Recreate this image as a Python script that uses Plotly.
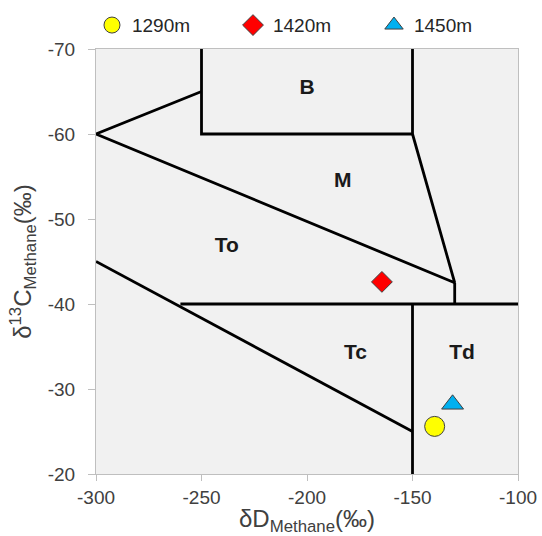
import plotly.graph_objects as go

# Sample measurements (dD, d13C of methane) by depth
depths = ["1290m", "1420m", "1450m"]
dD_values = [-139.5, -164.5, -131.0]
d13C_values = [-25.6, -42.6, -28.2]
marker_symbols = ["circle", "diamond", "triangle-up"]
marker_sizes = [20, 16, 19]
marker_colors = ["#FFFF00", "#FF0000", "#00B0F0"]

# Genetic classification zone boundaries (dD, d13C polylines)
boundaries = [
    ([-250, -250, -150, -150], [-70, -60, -60, -70]),
    ([-250, -300, -130, -150], [-65, -60, -42.5, -60]),
    ([-130, -130], [-42.5, -40]),
    ([-260, -100], [-40, -40]),
    ([-300, -150], [-45, -25]),
    ([-150, -150], [-40, -20]),
]

# Zone labels
zone_names = ["B", "M", "To", "Tc", "Td"]
zone_x = [-200, -183, -238, -177, -126.5]
zone_y = [-65.3, -54.4, -46.7, -34.1, -34.1]

# Axis ticks
x_ticks = [-300, -250, -200, -150, -100]
y_ticks = [-70, -60, -50, -40, -30, -20]

FONT = "Liberation Sans, Arial, sans-serif"

fig = go.Figure()

for bx, by in boundaries:
    fig.add_trace(go.Scatter(
        x=bx, y=by, mode="lines",
        line=dict(color="black", width=2.8),
        showlegend=False, hoverinfo="skip",
    ))

fig.add_trace(go.Scatter(
    x=zone_x, y=zone_y, mode="text", text=zone_names,
    texttemplate="<b>%{text}</b>",
    textfont=dict(family=FONT, size=21, color="#1a1a1a"),
    showlegend=False, hoverinfo="skip",
))

for name, xv, yv, sym, sz, col in zip(depths, dD_values, d13C_values,
                                      marker_symbols, marker_sizes, marker_colors):
    fig.add_trace(go.Scatter(
        x=[xv], y=[yv], mode="markers", name=name,
        marker=dict(symbol=sym, size=sz, color=col,
                    line=dict(color="#404040", width=1)),
    ))

axis_font = dict(family=FONT, size=19, color="#404040")

fig.update_layout(
    width=542, height=536,
    margin=dict(l=96, r=24, t=49, b=62, autoexpand=False),
    paper_bgcolor="white",
    plot_bgcolor="#F1F1F1",
    font=dict(family=FONT, color="#404040"),
    showlegend=True,
    legend=dict(
        orientation="h", x=-0.0095, xanchor="left", y=1.056, yanchor="middle",
        font=dict(family=FONT, size=19, color="#262626"),
        entrywidth=96, bgcolor="rgba(0,0,0,0)",
        tracegroupgap=0,
    ),
    xaxis=dict(
        range=[-300, -100], tickvals=x_ticks,
        ticktext=[str(v) for v in x_ticks],
        showgrid=False, zeroline=False,
        showline=True, linecolor="#BFBFBF", linewidth=1, mirror=True,
        ticks="outside", ticklen=6, tickcolor="#BFBFBF",
        tickfont=axis_font,
        title=dict(text="δD<sub>Methane</sub>(‰)",
                   font=dict(family=FONT, size=24, color="#404040"), standoff=2),
    ),
    yaxis=dict(
        range=[-20, -70], tickvals=y_ticks,
        ticktext=[str(v) for v in y_ticks],
        showgrid=False, zeroline=False,
        showline=True, linecolor="#BFBFBF", linewidth=1, mirror=True,
        ticks="outside", ticklen=7, tickcolor="#BFBFBF",
        ticklabelstandoff=9,
        tickfont=axis_font,
        title=dict(text="δ<sup>13</sup>C<sub>Methane</sub>(‰)",
                   font=dict(family=FONT, size=24, color="#404040"), standoff=9),
    ),
)

fig.write_html("out.html")
